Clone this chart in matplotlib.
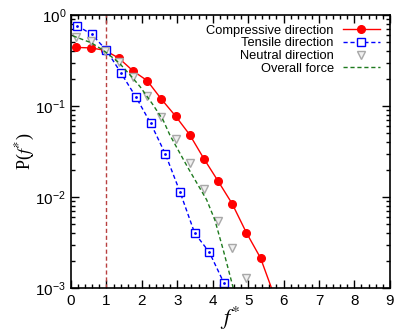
import matplotlib
matplotlib.use('Agg')
import matplotlib.pyplot as plt
from matplotlib.ticker import MultipleLocator, LogLocator, NullFormatter
import numpy as np

plt.rcParams['font.family'] = ['Liberation Sans', 'DejaVu Sans']
plt.rcParams['mathtext.fontset'] = 'stix'

# compressive direction
comp_x = [0.15, 0.55, 0.95, 1.35, 1.75, 2.15, 2.55, 2.95, 3.35, 3.75, 4.15, 4.55, 4.95, 5.35, 5.75]
comp_y = [0.44, 0.435, 0.41, 0.336, 0.243, 0.19, 0.119, 0.0776, 0.0484, 0.0264,
          0.0150, 0.00843, 0.00406, 0.00214, 0.0008]

# tensile direction
tens_x = [0.17, 0.585, 1.0, 1.415, 1.83, 2.245, 2.66, 3.075, 3.49, 3.905, 4.32, 4.735]
tens_y = [0.762, 0.614, 0.41, 0.229, 0.126, 0.065, 0.0299, 0.01143, 0.00402,
          0.00247, 0.00113, 0.0005]

# neutral direction
neut_x = [0.15, 0.55, 0.95, 1.35, 1.75, 2.15, 2.55, 2.95, 3.35, 3.75, 4.15, 4.55, 4.95]
neut_y = [0.578, 0.522, 0.405, 0.305, 0.2065, 0.129, 0.0751, 0.043, 0.0234,
          0.01225, 0.0055, 0.00277, 0.00129]

# overall force
all_x = [0.05, 0.57, 0.91, 1.35, 1.71, 1.95, 2.3, 2.6, 2.79, 3.3, 3.83, 4.06, 4.3, 4.58, 4.7]
all_y = [0.59, 0.495, 0.41, 0.30, 0.21, 0.163, 0.105, 0.070, 0.048, 0.021, 0.0093,
         0.0056, 0.0026, 0.001, 0.0006]

fig = plt.figure(figsize=(3.99, 3.33), dpi=100)
ax = fig.add_axes([0.178, 0.135, 0.799, 0.82])

ax.axvline(1.0, color='#b84040', linestyle=(0, (3, 2)), linewidth=1.0)

ax.plot(comp_x, comp_y, color='#ff0000', linestyle='-', linewidth=1.0,
        marker='o', markersize=5.5, label='Compressive direction')
ax.plot(tens_x, tens_y, color='#0000ff', linestyle=(0, (3, 2)), linewidth=1.0,
        marker='s', markersize=6, markerfacecolor='white', markeredgewidth=1.0,
        label='Tensile direction')
ax.plot(tens_x, tens_y, linestyle='none', marker='.', markersize=2, color='#0000ff')
ax.plot(neut_x, neut_y, linestyle='none', marker='v', markersize=6,
        markerfacecolor='#f0f0f0', markeredgecolor='#a8a8a8', markeredgewidth=1.0,
        label='Neutral direction')
ax.plot(all_x, all_y, color='#1e7a1e', linestyle=(0, (3, 2)), linewidth=1.0,
        label='Overall force')

ax.set_yscale('log')
ax.set_xlim(0, 9)
ax.set_ylim(1e-3, 1)
ax.xaxis.set_major_locator(MultipleLocator(1))
ax.xaxis.set_minor_locator(MultipleLocator(0.2))
ax.yaxis.set_major_locator(LogLocator(base=10, numticks=10))
ax.yaxis.set_minor_locator(LogLocator(base=10, subs=np.arange(2, 10), numticks=10))
ax.yaxis.set_minor_formatter(NullFormatter())

ax.tick_params(which='both', direction='in', top=True, right=True, labelsize=11)
ax.tick_params(which='major', length=6, width=1.0)
ax.tick_params(which='minor', length=3, width=1.0)
ax.tick_params(axis='x', pad=4)
for s in ax.spines.values():
    s.set_linewidth(1.2)

ax.set_xlabel(r'$f^{*}$', fontsize=16, labelpad=-2)
ax.set_ylabel(r'P($f^{*}$)', fontsize=13, family='Liberation Serif', labelpad=-1)

leg = ax.legend(loc='upper right', frameon=False, markerfirst=False, fontsize=9.3,
                handlelength=2.9, handletextpad=0.7, labelspacing=0.05,
                borderaxespad=0.35)

fig.savefig('out.png', dpi=100)
